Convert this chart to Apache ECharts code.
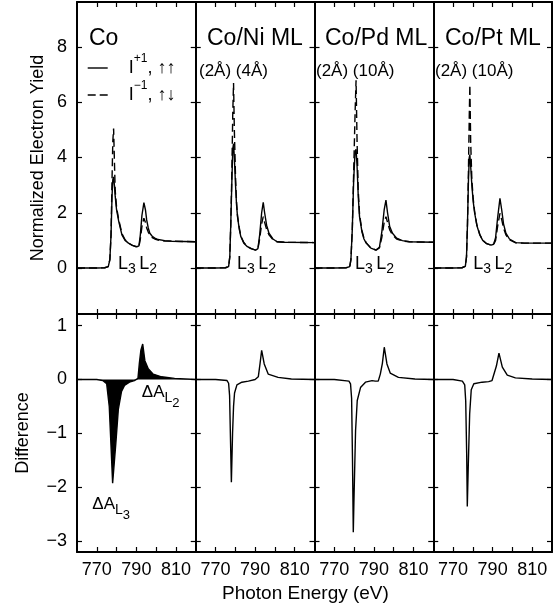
<!DOCTYPE html>
<html>
<head>
<meta charset="utf-8">
<script src="https://cdn.jsdelivr.net/npm/echarts@6/dist/echarts.min.js"></script>
<style>
html, body { margin: 0; padding: 0; background: #fff; }
#chart { width: 559px; height: 611px; }
</style>
</head>
<body>
<div id="chart"></div>
<script>
// panel titles
var panelNames = ['Co', 'Co/Ni ML', 'Co/Pd ML', 'Co/Pt ML'];
var panelSubs = ['', '(2Å) (4Å)', '(2Å) (10Å)', '(2Å) (10Å)'];
var xTicks = [770, 780, 790, 800, 810];
var xLabels = [770, 790, 810];
var yTicksTop = [0, 2, 4, 6, 8];
var yTicksBottom = [-3, -2, -1, 0, 1];

// Co  (top: I+1 solid, I-1 dashed)
var coE     = [760, 770, 774, 775.8, 776.6, 777.2, 777.7, 778.1, 778.5, 778.9, 779.3, 780, 781, 782.7, 784.3, 786, 788, 790.2, 791.3, 792, 792.8, 793.8, 794.6, 795.2, 796, 796.8, 798, 799.3, 801, 804.3, 808, 814, 820];
var coPlus  = [0, 0, 0.01, 0.05, 0.3, 1.2, 2.6, 3.2, 3.3, 3.0, 2.6, 2.1, 1.72, 1.2, 1.0, 0.9, 0.82, 0.77, 0.8, 1.2, 1.9, 2.37, 2.1, 1.74, 1.45, 1.26, 1.15, 1.08, 1.03, 0.99, 0.97, 0.96, 0.95];
var coMinus = [0, 0, 0.01, 0.05, 0.3, 1.2, 3.2, 4.6, 5.05, 3.9, 2.8, 2.2, 1.78, 1.25, 1.02, 0.9, 0.82, 0.76, 0.78, 1.05, 1.5, 1.8, 1.65, 1.45, 1.3, 1.2, 1.1, 1.05, 1.01, 0.98, 0.97, 0.96, 0.95];
var coDiffE = [760, 770, 773, 775, 776.3, 777.2, 778.0, 779.6, 780.9, 782.5, 784, 786.5, 789, 790.8, 791.5, 792.3, 793.2, 794.3, 796, 798.5, 802.7, 809.3, 820];
var coDiff  = [0, 0, -0.02, -0.08, -0.5, -1.25, -1.93, -1.2, -0.55, -0.22, -0.11, -0.05, -0.02, 0.02, 0.3, 0.55, 0.66, 0.35, 0.2, 0.1, 0.05, 0.02, 0];

// Co/Ni ML
var niE     = [760, 770, 775, 776.6, 777.2, 777.7, 778.2, 778.7, 779.1, 779.5, 780.1, 780.6, 781.1, 782, 782.8, 784.3, 786.1, 788, 790.3, 791.4, 792.3, 793.3, 794.1, 794.8, 795.8, 797, 799, 801.1, 805, 820];
var niPlus  = [0, 0, 0.01, 0.05, 0.4, 1.6, 3.0, 4.3, 4.5, 4.0, 3.0, 2.3, 1.86, 1.4, 1.13, 0.9, 0.77, 0.7, 0.65, 0.7, 1.2, 2.0, 2.38, 2.0, 1.55, 1.26, 1.05, 0.95, 0.93, 0.92];
var niMinus = [0, 0, 0.01, 0.05, 0.4, 1.6, 3.3, 5.6, 6.7, 5.0, 3.3, 2.4, 1.9, 1.45, 1.15, 0.92, 0.78, 0.7, 0.65, 0.69, 1.05, 1.6, 1.86, 1.65, 1.4, 1.2, 1.03, 0.95, 0.93, 0.92];
var niDiffE = [760, 770, 775.8, 776.6, 777.1, 777.6, 778.0, 778.6, 779.1, 779.6, 780.8, 783.3, 786.6, 790, 791.6, 792.5, 793.3, 794.6, 796.6, 801.6, 808.3, 820];
var niDiff  = [0, 0, -0.02, -0.07, -0.3, -1.2, -1.91, -1.0, -0.5, -0.25, -0.1, -0.05, -0.03, 0, 0.05, 0.3, 0.54, 0.29, 0.1, 0.04, 0.01, 0];

// Co/Pd ML
var pdE     = [760, 770, 776, 777.8, 778.4, 779.1, 779.8, 780.5, 781.0, 781.5, 782.1, 782.75, 784, 785, 786.1, 788.5, 791.1, 792.8, 794, 795.2, 796.1, 796.9, 798, 799.4, 801.5, 804.4, 808, 820];
var pdPlus  = [0, 0, 0.01, 0.05, 0.3, 1.4, 3.2, 4.2, 4.3, 3.7, 2.6, 1.86, 1.3, 1.05, 0.9, 0.72, 0.65, 0.75, 1.3, 2.1, 2.46, 2.0, 1.5, 1.26, 1.08, 0.99, 0.95, 0.93];
var pdMinus = [0, 0, 0.01, 0.05, 0.3, 1.4, 3.5, 5.6, 6.8, 4.6, 2.8, 1.95, 1.35, 1.08, 0.92, 0.72, 0.65, 0.73, 1.1, 1.65, 1.86, 1.65, 1.38, 1.2, 1.05, 0.98, 0.95, 0.93];
var pdDiffE = [760, 770, 777.4, 778.2, 778.75, 779.2, 779.6, 779.9, 780.75, 781.6, 783.25, 785.75, 789.1, 790.7, 791.5, 792.2, 793.25, 794.3, 795.25, 796.6, 798.25, 802.4, 810.75, 820];
var pdDiff  = [0, 0, -0.03, -0.08, -0.35, -1.5, -2.84, -2.3, -0.95, -0.39, -0.15, -0.05, -0.02, -0.03, -0.02, -0.03, 0.1, 0.3, 0.6, 0.29, 0.12, 0.04, 0.01, 0];

// Co/Pt ML
var ptE     = [760, 770, 774.5, 776.2, 776.8, 777.3, 777.8, 778.2, 778.5, 778.9, 779.5, 780.2, 780.9, 782, 783.5, 785, 787, 789.2, 790.5, 791.5, 792.5, 793.7, 794.6, 795.5, 796.7, 798.5, 801.7, 806, 820];
var ptPlus  = [0, 0, 0.01, 0.06, 0.4, 1.6, 3.2, 4.0, 4.1, 3.7, 3.0, 2.4, 2.0, 1.55, 1.2, 1.0, 0.88, 0.83, 0.86, 1.1, 1.8, 2.52, 2.1, 1.6, 1.26, 1.05, 0.92, 0.9, 0.9];
var ptMinus = [0, 0, 0.01, 0.06, 0.4, 1.6, 3.6, 5.5, 6.63, 4.6, 3.2, 2.5, 2.05, 1.58, 1.22, 1.0, 0.88, 0.83, 0.85, 1.0, 1.5, 1.98, 1.75, 1.45, 1.2, 1.02, 0.91, 0.9, 0.9];
var ptDiffE = [760, 770, 774.7, 775.9, 776.4, 776.9, 777.2, 777.7, 778.4, 779.2, 780.5, 784.7, 788, 789.7, 790.5, 791.9, 793.2, 794.9, 797.4, 801.5, 810, 820];
var ptDiff  = [0, 0, -0.03, -0.1, -0.4, -1.4, -2.36, -1.6, -0.64, -0.19, -0.08, -0.05, -0.04, -0.02, -0.01, 0.25, 0.49, 0.23, 0.08, 0.03, 0.01, 0];

// annotation anchors (eV, value)
var edgeLabelX = [781, 781.1, 780.75, 780.5];
var edgeLabelY = 0.45;
var deltaLabels = [[768, -2.17, '3'], [793, -0.09, '2']];

var energy = [coE, niE, pdE, ptE];
var plus = [coPlus, niPlus, pdPlus, ptPlus];
var minus = [coMinus, niMinus, pdMinus, ptMinus];
var diffE = [coDiffE, niDiffE, pdDiffE, ptDiffE];
var diff = [coDiff, niDiff, pdDiff, ptDiff];

var FONT = "'Liberation Sans', Arial, Helvetica, sans-serif";
var INK = '#000';
var colLeft = [77, 195.75, 314.5, 433.25], colW = 118.75;

var chart = echarts.init(document.getElementById('chart'));

function pairs(xs, ys) {
    var out = [];
    for (var i = 0; i < xs.length; i++) out.push([xs[i], ys[i]]);
    return out;
}
function minusFmt(v) {
    return v < 0 ? '\u2212' + (-v) : '' + v;
}
function txt(size, pad) {
    var s = { fontSize: size, fontFamily: FONT, color: INK, verticalAlign: 'top', textBorderWidth: 0, opacity: 1 };
    if (pad) s.padding = pad;
    return s;
}
function xAxis(g, pos, labels) {
    return {
        type: 'value', gridIndex: g, position: pos, min: 760, max: 820,
        axisLine: { show: true, onZero: false, lineStyle: { color: INK, width: 2 } },
        axisTick: { show: true, inside: true, length: 5, customValues: xTicks, lineStyle: { color: INK, width: 1.2 } },
        axisLabel: { show: labels, customValues: xLabels, margin: 9, color: INK, fontSize: 18, fontFamily: FONT },
        splitLine: { show: false }
    };
}
function yAxis(g, pos, row, labels) {
    var isTop = row == 0;
    return {
        type: 'value', gridIndex: g, position: pos,
        min: isTop ? -1.665 : -3.208, max: isTop ? 9.629 : 1.218,
        name: labels ? (isTop ? 'Normalized Electron Yield' : 'Difference') : '',
        nameLocation: 'middle', nameGap: isTop ? 30 : 45,
        nameTextStyle: { color: INK, fontSize: 18, fontFamily: FONT },
        axisLine: { show: true, onZero: false, lineStyle: { color: INK, width: 2 } },
        axisTick: { show: true, inside: true, length: 5, customValues: isTop ? yTicksTop : yTicksBottom, lineStyle: { color: INK, width: 1.2 } },
        axisLabel: { show: labels, customValues: isTop ? yTicksTop : yTicksBottom, margin: 10, color: INK, fontSize: 18, fontFamily: FONT, formatter: minusFmt },
        splitLine: { show: false }
    };
}

var grids = [], xAxes = [], yAxes = [], series = [];
for (var row = 0; row < 2; row++) {
    for (var c = 0; c < 4; c++) {
        var g = grids.length;
        grids.push({ left: colLeft[c], width: colW, top: row == 0 ? 2 : 314, height: row == 0 ? 312 : 238 });
        xAxes.push(xAxis(g, 'bottom', row == 1));
        xAxes.push(xAxis(g, 'top', false));
        yAxes.push(yAxis(g, 'left', row, c == 0));
        yAxes.push(yAxis(g, 'right', row, false));
    }
}

for (var c = 0; c < 4; c++) {
    var upIdx = 2 * c, lowIdx = 2 * (4 + c);
    series.push({
        type: 'line', name: 'I+1', xAxisIndex: upIdx, yAxisIndex: upIdx,
        data: pairs(energy[c], plus[c]), symbol: 'none', silent: true,
        itemStyle: { color: INK }, lineStyle: { color: INK, width: 1.4 }
    });
    series.push({
        type: 'line', name: 'I-1', xAxisIndex: upIdx, yAxisIndex: upIdx,
        data: pairs(energy[c], minus[c]), symbol: 'none', silent: true,
        itemStyle: { color: INK }, lineStyle: { color: INK, width: 1.4, type: [8, 4] }
    });
    var d = {
        type: 'line', name: 'diff' + c, xAxisIndex: lowIdx, yAxisIndex: lowIdx,
        data: pairs(diffE[c], diff[c]), symbol: 'none', silent: true,
        itemStyle: { color: INK }, lineStyle: { color: INK, width: 1.4 }
    };
    if (c == 0) d.areaStyle = { color: INK, opacity: 1 };
    series.push(d);
    // L3 L2 edge labels
    series.push({
        type: 'scatter', xAxisIndex: upIdx, yAxisIndex: upIdx, silent: true,
        symbolSize: 1, itemStyle: { color: 'rgba(0,0,0,0)', opacity: 1 },
        data: [[edgeLabelX[c], edgeLabelY]],
        label: {
            show: true, position: [0, 0], color: INK, textBorderWidth: 0, opacity: 1,
            formatter: '{b|L}{s|3} {b|L}{s|2}',
            rich: { b: txt(18), s: txt(14, [7, 0, 0, 0]) }
        }
    });
}
// ΔA labels on Co difference panel
series.push({
    type: 'scatter', xAxisIndex: 8, yAxisIndex: 8, silent: true, z: 5,
    symbolSize: 1, itemStyle: { color: 'rgba(0,0,0,0)', opacity: 1 },
    data: deltaLabels.map(function(p) { return [p[0], p[1]]; }),
    label: {
        show: true, position: [0, 0], color: INK, textBorderWidth: 0, opacity: 1,
        formatter: function(p) { return '{d|\u0394A}{l|L}{n|' + deltaLabels[p.dataIndex][2] + '}'; },
        rich: { d: txt(17), l: txt(14, [7, 0, 0, 0]), n: txt(13, [13, 0, 0, 0]) }
    }
});

function legendRich() {
    return { i: txt(18, [6, 0, 6, 16]), sup: txt(12), t: txt(18, [6, 0, 6, 0]) };
}
function legendAt(name, topPx, text) {
    return {
        data: [name], left: 87, top: topPx, padding: 0, itemWidth: 20, itemHeight: 14, selectedMode: false,
        itemStyle: { color: 'rgba(0,0,0,0)', borderWidth: 0, opacity: 0 },
        lineStyle: { color: INK, width: 1.4 },
        formatter: function() { return text; },
        textStyle: { rich: legendRich() }
    };
}

var titles = [];
var titleLeft = [89, 207, 325, 445], subLeft = [0, 199, 316, 435];
for (var c = 0; c < 4; c++) {
    titles.push({ text: panelNames[c], left: titleLeft[c], top: 27, padding: 0,
        textStyle: { fontSize: 23, fontWeight: 'normal', color: INK, fontFamily: FONT } });
    if (panelSubs[c]) {
        titles.push({ text: panelSubs[c], left: subLeft[c], top: 63, padding: 0,
            textStyle: { fontSize: 17, fontWeight: 'normal', color: INK, fontFamily: FONT } });
    }
}
titles.push({ text: 'Photon Energy (eV)', left: 222, top: 584, padding: 0,
    textStyle: { fontSize: 19, fontWeight: 'normal', color: INK, fontFamily: FONT } });

var option = {
    animation: false,
    backgroundColor: '#fff',
    title: titles,
    legend: [
        legendAt('I+1', 53, '{i|I}{sup|+1}{t|, \u2191\u2191}'),
        legendAt('I-1', 80, '{i|I}{sup|\u22121}{t|, \u2191\u2193}')
    ],
    grid: grids,
    xAxis: xAxes,
    yAxis: yAxes,
    series: series
};
chart.setOption(option);
</script>
</body>
</html>
